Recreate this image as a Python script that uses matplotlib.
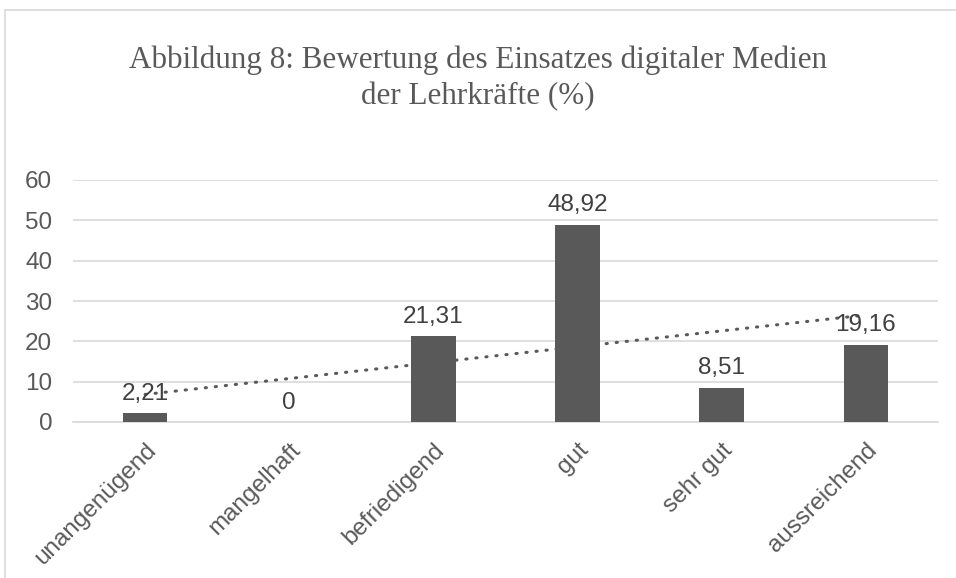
import matplotlib.pyplot as plt
from matplotlib.patches import Rectangle
from matplotlib import transforms
import numpy as np

# --- chart data ---
categories = ["unangenügend", "mangelhaft", "befriedigend", "gut", "sehr gut", "aussreichend"]
values = [2.21, 0, 21.31, 48.92, 8.51, 19.16]
value_labels = ["2,21", "0", "21,31", "48,92", "8,51", "19,16"]
y_ticks = [0, 10, 20, 30, 40, 50, 60]

title = "Abbildung 8: Bewertung des Einsatzes digitaler Medien\nder Lehrkräfte (%)"

bar_color = "#595959"
grid_color = "#d9d9d9"
text_color = "#595959"

fig = plt.figure(figsize=(9.56, 5.78), dpi=100)

# light frame of the chart area (cropped on the right and bottom)
fig.patches.append(Rectangle((5 / 956, -0.1), 1.2, 1 - 10 / 578 + 0.1,
                             transform=fig.transFigure, fill=False,
                             edgecolor=grid_color, linewidth=1.2))

ax = fig.add_axes([73 / 956, 1 - 422 / 578, 865 / 956, 242 / 578])
x = np.arange(len(categories))

ax.bar(x, values, width=0.31, color=bar_color, zorder=3)

# linear trend line, as Excel draws it
fit = np.polyfit(x, values, 1)
ax.plot(x, np.polyval(fit, x), color=bar_color, linestyle=(0, (0.4, 2.9)),
        linewidth=2.2, dash_capstyle="round", zorder=4)

for xi, v, lab in zip(x, values, value_labels):
    ax.annotate(lab, (xi, v), xytext=(0, 6), textcoords="offset points",
                ha="center", va="bottom", fontsize=17.5, color="#404040",
                family="Liberation Sans", zorder=5)

ax.set_xlim(-0.5, len(categories) - 0.5)
ax.set_ylim(0, 60)
ax.set_yticks(y_ticks)
ax.set_yticklabels([str(t) for t in y_ticks], fontsize=17.5, color=text_color,
                   family="Liberation Sans")
ax.grid(axis="y", color=grid_color, linewidth=1.2, zorder=0)
ax.set_axisbelow(True)

# category labels, rotated like Excel's, ending just right of each bar
ax.set_xticks(x)
ax.set_xticklabels([])
shift = transforms.ScaledTranslation(0, -17 / 100, fig.dpi_scale_trans)
for xi, cat in zip(x, categories):
    ax.text(xi, 0, cat, transform=ax.get_xaxis_transform() + shift,
            rotation=45, ha="right", va="top", rotation_mode="anchor",
            fontsize=17.5, color=text_color, family="Liberation Sans")

ax.tick_params(axis="x", length=0)
ax.tick_params(axis="y", length=0, pad=15)
for side in ["top", "right", "left"]:
    ax.spines[side].set_visible(False)
ax.spines["bottom"].set_color(grid_color)
ax.spines["bottom"].set_linewidth(1.2)

fig.text(0.5, 1 - 78 / 578, title, ha="center", va="center", fontsize=22.4,
         color=text_color, family="Liberation Serif", linespacing=1.3)

fig.savefig("out.png", dpi=100)
